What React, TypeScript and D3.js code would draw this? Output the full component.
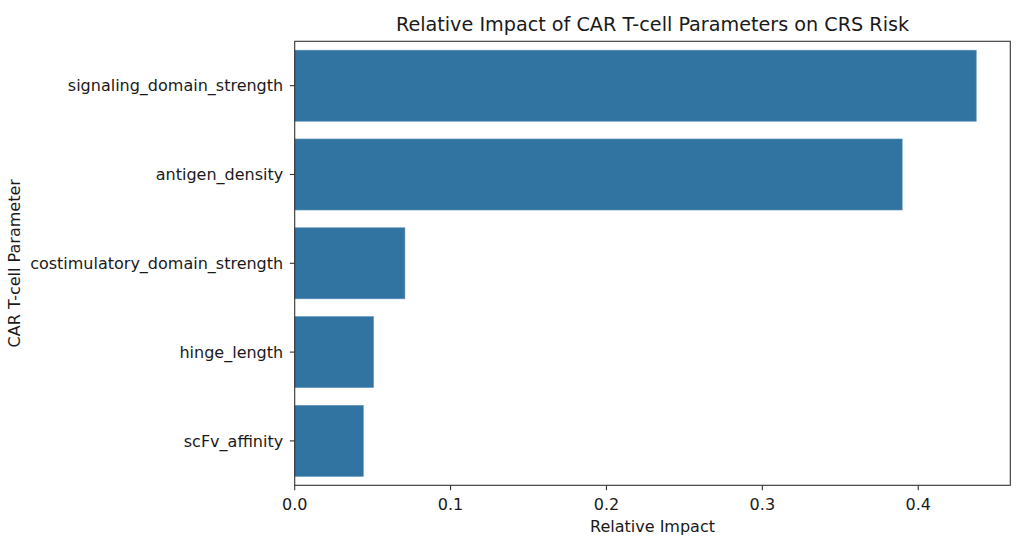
import React from "react";
import * as d3 from "d3";

const categories = [
  "signaling_domain_strength",
  "antigen_density",
  "costimulatory_domain_strength",
  "hinge_length",
  "scFv_affinity",
];
const impacts = [0.4372, 0.3897, 0.0707, 0.0506, 0.044];
const xTicks = [0, 0.1, 0.2, 0.3, 0.4];

const W = 1024;
const H = 550;
const margin = { left: 294.7, right: 1024 - 1010.3, top: 41.3, bottom: 550 - 485.3 };

export default function App() {
  const x = d3
    .scaleLinear()
    .domain([0, (d3.max(impacts) as number) * 1.05])
    .range([margin.left, W - margin.right]);
  const y = d3
    .scaleBand()
    .domain(categories)
    .range([margin.top, H - margin.bottom])
    .paddingInner(0.2)
    .paddingOuter(0.1);
  const font = "DejaVu Sans, sans-serif";
  const textColor = "#1a1a1a";
  const x0 = margin.left;
  const x1 = W - margin.right;
  const y0 = margin.top;
  const y1 = H - margin.bottom;
  const fs = 16;
  return (
    <svg
      width={W}
      height={H}
      style={{ position: "absolute", left: 0, top: 0, background: "#fff" }}
      fontFamily={font}
    >
      <rect x={0} y={0} width={W} height={H} fill="#fff" />
      {categories.map((c, i) => (
        <rect
          key={c}
          x={x(0)}
          y={y(c) as number}
          width={x(impacts[i]) - x(0)}
          height={y.bandwidth()}
          fill="#3274a1"
          stroke="#5d93bb"
          strokeWidth={0.6}
        />
      ))}
      <rect x={x0} y={y0} width={x1 - x0} height={y1 - y0} fill="none" stroke="#333" strokeWidth={1.1} />
      {categories.map((c) => {
        const cy = (y(c) as number) + y.bandwidth() / 2;
        return (
          <g key={c}>
            <line x1={x0 - 4.9} x2={x0} y1={cy} y2={cy} stroke="#333" strokeWidth={1.1} />
            <text x={x0 - 11.5} y={cy} dy="0.35em" textAnchor="end" fontSize={fs} fill={textColor}>
              {c}
            </text>
          </g>
        );
      })}
      {xTicks.map((t) => (
        <g key={t}>
          <line x1={x(t)} x2={x(t)} y1={y1} y2={y1 + 4.9} stroke="#333" strokeWidth={1.1} />
          <text x={x(t)} y={y1 + 19.5} dy="0.35em" textAnchor="middle" fontSize={fs} fill={textColor}>
            {d3.format(".1f")(t)}
          </text>
        </g>
      ))}
      <text x={(x0 + x1) / 2} y={526} dy="0.35em" textAnchor="middle" fontSize={fs} fill={textColor}>
        Relative Impact
      </text>
      <text
        transform={`translate(14,${(y0 + y1) / 2}) rotate(-90)`}
        dy="0.35em"
        textAnchor="middle"
        fontSize={fs}
        fill={textColor}
      >
        CAR T-cell Parameter
      </text>
      <text x={(x0 + x1) / 2} y={24} dy="0.35em" textAnchor="middle" fontSize={19.2} fill={textColor}>
        Relative Impact of CAR T-cell Parameters on CRS Risk
      </text>
    </svg>
  );
}
